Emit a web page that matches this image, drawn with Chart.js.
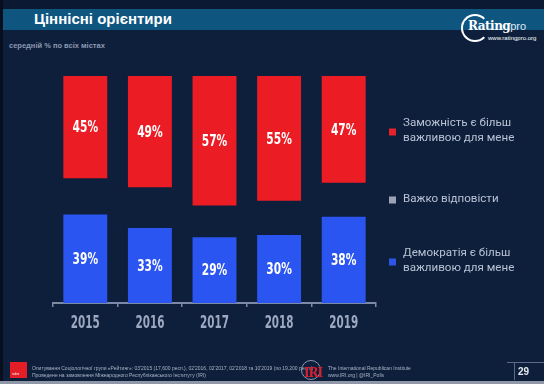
<!DOCTYPE html>
<html lang="uk">
<head>
<meta charset="utf-8">
<script src="https://cdn.jsdelivr.net/npm/chart.js@4/dist/chart.umd.min.js"></script>
<style>
  html, body { margin: 0; padding: 0; }
  body {
    width: 544px; height: 384px; overflow: hidden; position: relative;
    background: #0d1f3b; font-family: Roboto, "Liberation Sans", sans-serif;
  }
  #edge { position: absolute; left: 0; top: 0; width: 3px; height: 384px; background: #070f1e; }
  #topStrip { position: absolute; left: 0; top: 0; width: 544px; height: 9px; background: #0b1a32; }
  #band { position: absolute; left: 3px; top: 9px; width: 541px; height: 21px; background: #0e5680; }
  #title { position: absolute; left: 34px; top: 10px; color: #fff; font: bold 15px "Liberation Sans", Arial, sans-serif; }
  #subtitle { position: absolute; left: 9px; top: 41px; color: #8d99b2; font: bold 7.5px "Liberation Sans", Arial, sans-serif; }
  #logoRing { position: absolute; left: 461px; top: 14px; width: 24px; height: 24px; border: 2px solid #fff; border-right-color: transparent; border-radius: 50%; }
  #logo { position: absolute; left: 468px; top: 19px; color: #fff; font: bold 12px "DejaVu Serif", serif; letter-spacing: -0.5px; }
  #logo span { font: 11px "Liberation Sans", sans-serif; font-weight: normal; color: #dfe6f0; letter-spacing: 0; }
  #logoUrl { position: absolute; left: 488px; top: 35px; color: #fff; font: 6px "Liberation Sans", sans-serif; }
  canvas { position: absolute; left: 0; top: 0; }
  #redBox { position: absolute; left: 10px; top: 362px; width: 17px; height: 16px; background: #e31e26; }
  #redBox i { position: absolute; left: 2px; top: 10px; font: 3px sans-serif; color: #fff; font-style: normal; }
  .foot { position: absolute; color: #aab3c6; font: 5px "Liberation Sans", sans-serif; white-space: nowrap; }
  #iriRing { position: absolute; left: 301px; top: 360px; width: 18px; height: 18px; border: 1px solid #8e98ad; border-radius: 50%; }
  #iri { position: absolute; left: 304px; top: 366px; color: #d62030; font: bold 12px "DejaVu Serif", serif; letter-spacing: -1px; }
  #pageLineH { position: absolute; left: 507px; top: 362px; width: 37px; height: 1px; background: #5d6a85; }
  #pageLineV { position: absolute; left: 514px; top: 362px; width: 1px; height: 18px; background: #5d6a85; }
  #page { position: absolute; left: 518px; top: 366px; color: #e6e9ef; font: bold 10px "Liberation Sans", sans-serif; }
  #bottomStrip { position: absolute; left: 0; top: 381px; width: 544px; height: 3px; background: #8f97a8; }
</style>
</head>
<body>
<div id="topStrip"></div>
<div id="band"></div>
<div id="edge"></div>
<div id="title">Ціннісні орієнтири</div>
<div id="subtitle">середній % по всіх містах</div>
<div id="logoRing"></div>
<div id="logo">Rating<span>pro</span></div>
<div id="logoUrl">www.ratingpro.org</div>

<canvas id="chart" width="544" height="384"></canvas>

<div id="redBox"><i>ratinv</i></div>
<div class="foot" style="left:32px;top:365px">Опитування Соціологічної групи «Рейтинг»: 03'2015 (17,600 респ.), 02'2016, 02'2017, 02'2018 та 10'2019 (по 19,200 респ.)</div>
<div class="foot" style="left:32px;top:372px">Проведене на замовлення Міжнародного Республіканського Інституту (IRI)</div>
<div id="iriRing"></div>
<div id="iri">IRI</div>
<div class="foot" style="left:328px;top:365px">The International Republican Institute</div>
<div class="foot" style="left:328px;top:372px">www.IRI.org | @IRI_Polls</div>
<div id="pageLineH"></div>
<div id="pageLineV"></div>
<div id="page">29</div>
<div id="bottomStrip"></div>

<script>
// дані (середній % по всіх містах)
const years = ["2015", "2016", "2017", "2018", "2019"];
const wealth = [45, 49, 57, 55, 47];      // Заможність є більш важливою
const hardToSay = [16, 18, 14, 15, 15];   // Важко відповісти
const democracy = [39, 33, 29, 30, 38];   // Демократія є більш важливою

const legendLabels = [
  ["Демократія є більш", "важливою для мене"],
  ["Важко відповісти"],
  ["Заможність є більш", "важливою для мене"],
];

// вузького шрифту немає — стискаємо по горизонталі
const numFont = "'Liberation Sans Narrow', 'DejaVu Sans Condensed', sans-serif";

function narrowText(ctx, text, x, y, size, sx) {
  ctx.save();
  ctx.font = "bold " + size + "px " + numFont;
  ctx.textAlign = "center";
  ctx.textBaseline = "middle";
  ctx.translate(x, y);
  ctx.scale(sx, 1);
  ctx.fillText(text, 0, 0);
  ctx.restore();
}

// підписи значень у середині стовпчиків
const valueLabels = {
  id: "valueLabels",
  afterDatasetsDraw(chart) {
    const ctx = chart.ctx;
    chart.data.datasets.forEach((ds, i) => {
      if (!ds.showValues) return;
      chart.getDatasetMeta(i).data.forEach((bar, j) => {
        const p = bar.getProps(["x", "y", "base"], true);
        ctx.fillStyle = "#ffffff";
        narrowText(ctx, ds.data[j] + "%", p.x, (p.y + p.base) / 2 + 1, 16, 0.74);
      });
    });
  },
};

// роки під віссю (позиції зі шкали x)
const yearLabels = {
  id: "yearLabels",
  afterDraw(chart) {
    const ctx = chart.ctx;
    const x = chart.scales.x;
    ctx.fillStyle = "#9ea9c1";
    chart.data.labels.forEach((lab, i) => {
      narrowText(ctx, lab, x.getPixelForTick(i), x.top + 21, 17, 0.68);
    });
  },
};

// легенда праворуч (зверху вниз: заможність, важко, демократія)
const sideLegend = {
  id: "sideLegend",
  afterDraw(chart) {
    const ctx = chart.ctx;
    const centers = [262, 200, 132];
    ctx.save();
    ctx.font = "11.6px Roboto, sans-serif";
    ctx.textBaseline = "middle";
    chart.data.datasets.forEach((ds, i) => {
      const cy = centers[i];
      const lines = legendLabels[i];
      ctx.fillStyle = ds.legendColor;
      ctx.fillRect(389, cy - 3.5, 7, 7);
      ctx.fillStyle = "#b9c2d3";
      const top = cy - (lines.length - 1) * 15 / 2;
      lines.forEach((t, k) => ctx.fillText(t, 403, top + k * 15 - 1));
    });
    ctx.restore();
  },
};

const axisColor = "#7d8aa6";

new Chart(document.getElementById("chart"), {
  type: "bar",
  data: {
    labels: years,
    datasets: [
      { label: "Демократія", data: democracy, backgroundColor: "#2b55f0", legendColor: "#2d56e8", showValues: true },
      { label: "Важко відповісти", data: hardToSay, backgroundColor: "rgba(0,0,0,0)", legendColor: "#9ba4b7", showValues: false },
      { label: "Заможність", data: wealth, backgroundColor: "#ec1c24", legendColor: "#e8222a", showValues: true },
    ],
  },
  options: {
    responsive: false,
    animation: false,
    barPercentage: 0.68,
    categoryPercentage: 1,
    layout: { padding: { left: 53, right: 168, top: 76, bottom: 0 } },
    plugins: { legend: { display: false }, tooltip: { enabled: false } },
    scales: {
      x: {
        stacked: true,
        grid: { display: true, drawOnChartArea: false, tickLength: 4, color: axisColor, lineWidth: 1.5, offset: true },
        border: { display: true, color: axisColor, width: 2 },
        ticks: { display: false },
        afterFit(scale) { scale.height = 81; },
      },
      y: { stacked: true, min: 0, max: 100, display: false },
    },
  },
  plugins: [valueLabels, yearLabels, sideLegend],
});
</script>
</body>
</html>
